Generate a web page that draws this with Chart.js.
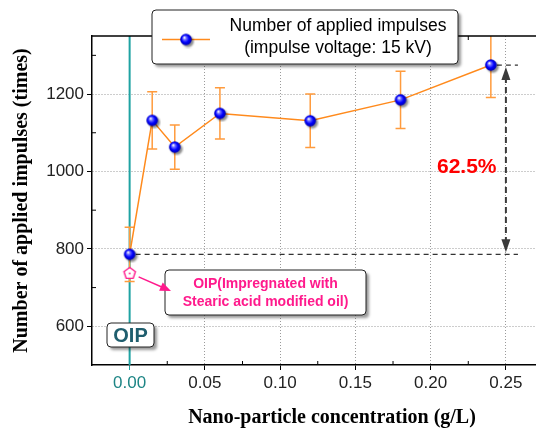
<!DOCTYPE html>
<html>
<head>
<meta charset="utf-8">
<script src="https://cdn.jsdelivr.net/npm/chart.js@4.4.1/dist/chart.umd.min.js"></script>
<style>
  html, body { margin: 0; padding: 0; background: #fff; }
</style>
</head>
<body>
<canvas id="chart" width="536" height="430"></canvas>
<script>
// Data
const concentrations = [0, 0.015, 0.03, 0.06, 0.12, 0.18, 0.24];
const impulses = [786, 1132, 1063, 1150, 1131, 1185, 1275];
const impulseErrors = [70, 74, 57, 66, 69, 74, 84];
const oipConcentration = [0];
const oipImpulses = [738];
const xTicks = [0, 0.05, 0.10, 0.15, 0.20, 0.25];
const xMinorTicks = [0.025, 0.075, 0.125, 0.175, 0.225];
const yTicks = [600, 800, 1000, 1200];
const yMinorTicks = [700, 900, 1100, 1300];
const legendLines = ['Number of applied impulses', '(impulse voltage: 15 kV)'];
const oipNoteLines = ['OIP(Impregnated with', 'Stearic acid modified oil)'];
const increaseLabel = '62.5%';
const xTitle = 'Nano-particle concentration (g/L)';

const ORANGE = '#ff8a1c';
const ERR_ORANGE = '#ff9b3d';
const TEAL = '#1fa3a3';
const MAGENTA = '#ff1a8c';
const SANS = "'Liberation Sans', Arial, sans-serif";
const SERIF = "'Liberation Serif', 'Times New Roman', serif";

// blue shaded ball marker
function makeBall() {
    const c = document.createElement('canvas');
    c.width = 18; c.height = 18;
    const g = c.getContext('2d');
    g.shadowColor = 'rgba(0,0,0,0.45)';
    g.shadowOffsetX = 2; g.shadowOffsetY = 2; g.shadowBlur = 2;
    const grad = g.createRadialGradient(7.3, 7, 0.3, 9, 9, 6);
    grad.addColorStop(0, '#ffffff');
    grad.addColorStop(0.25, '#7070ff');
    grad.addColorStop(0.6, '#0000ff');
    grad.addColorStop(1, '#0000a8');
    g.fillStyle = grad;
    g.beginPath(); g.arc(9, 9, 5.8, 0, Math.PI * 2); g.fill();
    return c;
}

// hollow magenta pentagon marker
function makePentagon() {
    const c = document.createElement('canvas');
    c.width = 16; c.height = 16;
    const g = c.getContext('2d');
    g.beginPath();
    for (let i = 0; i < 5; i++) {
        const a = -Math.PI / 2 + i * 2 * Math.PI / 5;
        const px = 8 + 6 * Math.cos(a), py = 8.5 + 6 * Math.sin(a);
        if (i === 0) g.moveTo(px, py); else g.lineTo(px, py);
    }
    g.closePath();
    g.fillStyle = '#fff'; g.fill();
    g.strokeStyle = MAGENTA; g.lineWidth = 1.4; g.stroke();
    g.fillStyle = MAGENTA;
    g.beginPath(); g.arc(8, 8.5, 0.9, 0, Math.PI * 2); g.fill();
    return c;
}

const ball = makeBall();
const pentagon = makePentagon();

function roundBox(ctx, x, y, w, h, r) {
    ctx.beginPath();
    ctx.moveTo(x + r, y);
    ctx.arcTo(x + w, y, x + w, y + h, r);
    ctx.arcTo(x + w, y + h, x, y + h, r);
    ctx.arcTo(x, y + h, x, y, r);
    ctx.arcTo(x, y, x + w, y, r);
    ctx.closePath();
}

function shadowBox(ctx, x, y, w, h, r) {
    ctx.save();
    ctx.shadowColor = 'rgba(0,0,0,0.4)';
    ctx.shadowOffsetX = 3; ctx.shadowOffsetY = 3; ctx.shadowBlur = 3;
    roundBox(ctx, x, y, w, h, r);
    ctx.fillStyle = '#fff';
    ctx.fill();
    ctx.restore();
    roundBox(ctx, x, y, w, h, r);
    ctx.strokeStyle = '#222';
    ctx.lineWidth = 1;
    ctx.stroke();
}

function arrowHead(ctx, x1, y1, x2, y2, len, half) {
    const a = Math.atan2(y2 - y1, x2 - x1);
    ctx.beginPath();
    ctx.moveTo(x2, y2);
    ctx.lineTo(x2 - len * Math.cos(a) + half * Math.sin(a), y2 - len * Math.sin(a) - half * Math.cos(a));
    ctx.lineTo(x2 - len * Math.cos(a) - half * Math.sin(a), y2 - len * Math.sin(a) + half * Math.cos(a));
    ctx.closePath();
    ctx.fill();
}

const decorations = {
    id: 'decorations',
    beforeDatasetsDraw(chart) {
        const { ctx, chartArea: a, scales: { x, y } } = chart;
        ctx.save();
        // teal line at zero concentration
        ctx.strokeStyle = TEAL;
        ctx.lineWidth = 2;
        ctx.beginPath();
        ctx.moveTo(x.getPixelForValue(0), a.top);
        ctx.lineTo(x.getPixelForValue(0), a.bottom);
        ctx.stroke();

        // dashed reference lines
        const last = concentrations.length - 1;
        const xEnd = x.getPixelForValue(0.258);
        ctx.strokeStyle = '#333';
        ctx.lineWidth = 1.2;
        ctx.setLineDash([5, 4]);
        ctx.beginPath();
        ctx.moveTo(x.getPixelForValue(concentrations[0]) + 6, y.getPixelForValue(impulses[0]));
        ctx.lineTo(xEnd, y.getPixelForValue(impulses[0]));
        ctx.moveTo(x.getPixelForValue(concentrations[last]) + 6, y.getPixelForValue(impulses[last]));
        ctx.lineTo(xEnd, y.getPixelForValue(impulses[last]));
        ctx.stroke();

        // double arrow
        const ax = x.getPixelForValue(0.25);
        const yTop = y.getPixelForValue(impulses[last]) + 2;
        const yBot = y.getPixelForValue(impulses[0]) - 2;
        ctx.strokeStyle = '#3a3a3a';
        ctx.fillStyle = '#3a3a3a';
        ctx.lineWidth = 2;
        ctx.setLineDash([6, 4]);
        ctx.beginPath();
        ctx.moveTo(ax, yTop + 10);
        ctx.lineTo(ax, yBot - 10);
        ctx.stroke();
        ctx.setLineDash([]);
        arrowHead(ctx, ax, yBot, ax, yTop, 13, 4.5);
        arrowHead(ctx, ax, yTop, ax, yBot, 13, 4.5);

        // error bars
        ctx.strokeStyle = ERR_ORANGE;
        ctx.lineWidth = 1.5;
        concentrations.forEach((c, i) => {
            const px = x.getPixelForValue(c);
            const hi = y.getPixelForValue(impulses[i] + impulseErrors[i]);
            const lo = y.getPixelForValue(impulses[i] - impulseErrors[i]);
            ctx.beginPath();
            ctx.moveTo(px, Math.max(hi, a.top)); ctx.lineTo(px, lo);
            if (hi >= a.top) { ctx.moveTo(px - 5, hi); ctx.lineTo(px + 5, hi); }
            ctx.moveTo(px - 5, lo); ctx.lineTo(px + 5, lo);
            ctx.stroke();
        });
        ctx.restore();
    },
    afterDatasetsDraw(chart) {
        const { ctx, chartArea: a, scales: { x, y } } = chart;
        ctx.save();
        // frame top and minor ticks
        ctx.strokeStyle = '#000';
        ctx.lineWidth = 1.5;
        ctx.beginPath();
        ctx.moveTo(a.left, a.top); ctx.lineTo(a.right, a.top);
        ctx.stroke();
        ctx.lineWidth = 1;
        ctx.beginPath();
        xMinorTicks.forEach(v => {
            const px = x.getPixelForValue(v);
            ctx.moveTo(px, a.bottom); ctx.lineTo(px, a.bottom - 4);
            ctx.moveTo(px, a.top); ctx.lineTo(px, a.top + 4);
        });
        yMinorTicks.forEach(v => {
            const py = y.getPixelForValue(v);
            ctx.moveTo(a.left, py); ctx.lineTo(a.left + 4, py);
        });
        ctx.stroke();

        // x axis title (sits right of the plot centre in the original)
        ctx.fillStyle = '#000';
        ctx.font = 'bold 20px ' + SERIF;
        ctx.textAlign = 'center';
        ctx.textBaseline = 'middle';
        ctx.fillText(xTitle, 332, 418);

        // 62.5% label
        ctx.fillStyle = '#ff0000';
        ctx.font = 'bold 21px ' + SANS;
        ctx.fillText(increaseLabel, x.getPixelForValue(0.224), y.getPixelForValue(1010));

        // legend
        shadowBox(ctx, 152, 10, 306, 54, 4);
        ctx.strokeStyle = ORANGE;
        ctx.lineWidth = 1.5;
        ctx.beginPath(); ctx.moveTo(162, 39.5); ctx.lineTo(210, 39.5); ctx.stroke();
        ctx.drawImage(ball, 186 - 9, 39.5 - 9);
        ctx.fillStyle = '#000';
        ctx.font = '17.5px ' + SANS;
        ctx.fillText(legendLines[0], 338, 26);
        ctx.fillText(legendLines[1], 338, 48);

        // OIP note with arrow
        shadowBox(ctx, 165, 270, 201, 45, 4);
        ctx.strokeStyle = MAGENTA;
        ctx.fillStyle = MAGENTA;
        ctx.lineWidth = 1.5;
        const sx = x.getPixelForValue(oipConcentration[0]) + 9, sy = y.getPixelForValue(oipImpulses[0]) + 4;
        ctx.beginPath(); ctx.moveTo(sx, sy); ctx.lineTo(164, 288); ctx.stroke();
        arrowHead(ctx, sx, sy, 171, 291, 11, 4.5);
        ctx.font = 'bold 14px ' + SANS;
        ctx.fillText(oipNoteLines[0], 265.5, 284);
        ctx.fillText(oipNoteLines[1], 265.5, 302);

        // OIP tag
        shadowBox(ctx, 107, 323, 47, 24, 4);
        ctx.fillStyle = '#1f5e6e';
        ctx.font = 'bold 20px ' + SANS;
        ctx.fillText('OIP', 130.5, 336);
        ctx.restore();
    }
};

new Chart(document.getElementById('chart'), {
    type: 'scatter',
    data: {
        datasets: [
            {
                label: legendLines.join(' '),
                data: concentrations.map((c, i) => ({ x: c, y: impulses[i] })),
                showLine: true,
                borderColor: ORANGE,
                borderWidth: 1.5,
                pointStyle: ball,
                pointRadius: 6,
                order: 1
            },
            {
                label: 'OIP',
                data: oipConcentration.map((c, i) => ({ x: c, y: oipImpulses[i] })),
                pointStyle: pentagon,
                pointRadius: 6,
                order: 0
            }
        ]
    },
    options: {
        responsive: false,
        animation: false,
        layout: { autoPadding: false, padding: { top: 36, right: 0, left: 0, bottom: 0 } },
        plugins: { legend: { display: false }, tooltip: { enabled: false } },
        scales: {
            x: {
                type: 'linear',
                min: -0.025,
                max: 0.27,
                afterBuildTicks: s => { s.ticks = xTicks.map(v => ({ value: v })); },
                afterFit: s => { s.height = 65; s.paddingLeft = 0; s.paddingRight = 0; },
                ticks: {
                    callback: v => v.toFixed(2),
                    color: c => (c.tick && c.tick.value === 0 ? '#1d8585' : '#222'),
                    font: { family: SANS, size: 17 },
                    padding: 3
                },
                grid: {
                    color: c => (c.tick && c.tick.value === 0 ? 'rgba(0,0,0,0)' : '#9a9a9a'),
                    lineWidth: 1,
                    tickLength: 5,
                    tickColor: c => (c.tick && c.tick.value === 0 ? TEAL : '#000')
                },
                border: { display: true, color: '#000', width: 1.5, dash: [1, 2] }
            },
            y: {
                min: 500,
                max: 1350,
                afterBuildTicks: s => { s.ticks = yTicks.map(v => ({ value: v })); },
                afterFit: s => { s.width = 92; s.paddingTop = 0; s.paddingBottom = 0; },
                ticks: {
                    callback: v => String(v),
                    color: '#222',
                    font: { family: SANS, size: 17 },
                    padding: 3
                },
                grid: { color: '#9a9a9a', lineWidth: 1, tickLength: 5, tickColor: '#000' },
                border: { display: true, color: '#000', width: 1.5, dash: [1, 2] },
                title: {
                    display: true,
                    text: 'Number of applied impulses (times)',
                    color: '#000',
                    font: { family: SERIF, size: 20, weight: 'bold' },
                    padding: { top: 10, bottom: 0 }
                }
            }
        }
    },
    plugins: [decorations]
});
</script>
</body>
</html>
